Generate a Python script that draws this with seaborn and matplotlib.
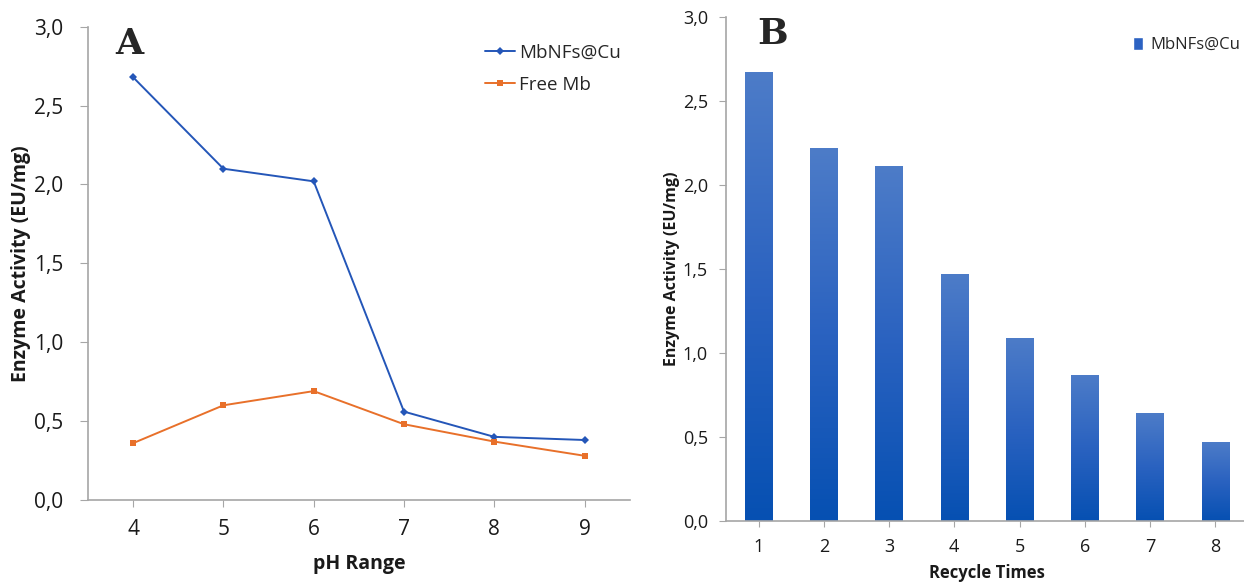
# Enzyme activity: pH profile (A) and reusability (B)
import numpy as np
import pandas as pd
import seaborn as sns
import matplotlib.pyplot as plt
from matplotlib.colors import LinearSegmentedColormap

# Data
ph_values = [4, 5, 6, 7, 8, 9]
mbnfs_cu = [2.68, 2.10, 2.02, 0.56, 0.40, 0.38]
free_mb = [0.36, 0.60, 0.69, 0.48, 0.37, 0.28]

recycle_times = ['1', '2', '3', '4', '5', '6', '7', '8']
recycle_activity = [2.67, 2.22, 2.11, 1.47, 1.09, 0.87, 0.64, 0.47]

y_ticks = [0.0, 0.5, 1.0, 1.5, 2.0, 2.5, 3.0]
y_tick_labels = ['0,0', '0,5', '1,0', '1,5', '2,0', '2,5', '3,0']

sns.set_style('white')
plt.rcParams['font.family'] = ['Open Sans', 'DejaVu Sans']

blue = '#2456b8'
orange = '#e8702a'
bar_blue = '#2c62c2'
spine_grey = '#a6a6a6'
text_col = '#1a1a1a'

fig = plt.figure(figsize=(12.44, 5.82), dpi=100)
ax_a = fig.add_axes([0.0707, 0.141, 0.4355, 0.813])
ax_b = fig.add_axes([0.5836, 0.105, 0.4195, 0.866])

# Panel A - line chart
df_ph = pd.DataFrame({
    'pH': ph_values * 2,
    'activity': mbnfs_cu + free_mb,
    'sample': ['MbNFs@Cu'] * len(ph_values) + ['Free Mb'] * len(ph_values),
})
sns.lineplot(data=df_ph, x='pH', y='activity', hue='sample', style='sample',
             markers={'MbNFs@Cu': 'D', 'Free Mb': 's'}, dashes=False,
             palette={'MbNFs@Cu': blue, 'Free Mb': orange},
             linewidth=1.4, markersize=4.5, markeredgewidth=0, ax=ax_a)
ax_a.set_xlim(3.5, 9.5)
ax_a.set_ylim(0, 3.0)
ax_a.set_xticks(ph_values)
ax_a.set_yticks(y_ticks)
ax_a.set_yticklabels(y_tick_labels)
ax_a.tick_params(axis='both', labelsize=15, colors=text_col)
ax_a.tick_params(axis='x', length=5, color=spine_grey, direction='out', bottom=True, pad=9)
ax_a.tick_params(axis='y', length=6, color=spine_grey, left=True, pad=12)
ax_a.set_xlabel('pH Range', fontsize=14, fontweight='bold', labelpad=10, color=text_col)
ax_a.set_ylabel('Enzyme Activity (EU/mg)', fontsize=14, fontweight='bold', labelpad=2, color=text_col)
for side in ['top', 'right']:
    ax_a.spines[side].set_visible(False)
for side in ['left', 'bottom']:
    ax_a.spines[side].set_color(spine_grey)
    ax_a.spines[side].set_linewidth(1.2)
ax_a.legend(loc='upper right', bbox_to_anchor=(1.015, 1.0), frameon=False,
            fontsize=13.5, handlelength=1.6, handletextpad=0.2, labelspacing=0.75)
ax_a.text(0.05, 1.0, 'A', transform=ax_a.transAxes, fontsize=26, fontweight='bold',
          family='DejaVu Serif', va='top', ha='left')

# Panel B - bar chart with vertical gradient fill
df_recycle = pd.DataFrame({'time': recycle_times, 'activity': recycle_activity})
sns.barplot(data=df_recycle, x='time', y='activity', color=bar_blue,
            width=0.42, saturation=1, label='MbNFs@Cu', ax=ax_b)
grad_cmap = LinearSegmentedColormap.from_list('bar_grad', ['#0650b2', '#2a62c0', '#4d7cc8'])
gradient = np.linspace(0, 1, 256).reshape(-1, 1)
for patch in ax_b.patches:
    x0, y0 = patch.get_x(), patch.get_y()
    w, h = patch.get_width(), patch.get_height()
    im = ax_b.imshow(gradient, cmap=grad_cmap, origin='lower', aspect='auto',
                     extent=[x0, x0 + w, y0, y0 + h], zorder=patch.get_zorder() + 0.1)
    im.set_clip_path(patch)
ax_b.set_xlim(-0.5, 7.5)
ax_b.set_ylim(0, 3.0)
ax_b.set_yticks(y_ticks)
ax_b.set_yticklabels(y_tick_labels)
ax_b.tick_params(axis='both', labelsize=13, colors=text_col)
ax_b.tick_params(axis='x', length=4, color=spine_grey, direction='out', bottom=True, pad=8)
ax_b.tick_params(axis='y', length=5, color=spine_grey, left=True, pad=8)
ax_b.set_xlabel('Recycle Times', fontsize=12, fontweight='bold', labelpad=6, color=text_col)
ax_b.set_ylabel('Enzyme Activity (EU/mg)', fontsize=11.5, fontweight='bold', labelpad=2, color=text_col)
for side in ['top', 'right']:
    ax_b.spines[side].set_visible(False)
for side in ['left', 'bottom']:
    ax_b.spines[side].set_color(spine_grey)
    ax_b.spines[side].set_linewidth(1.2)
ax_b.legend(loc='upper left', bbox_to_anchor=(0.752, 0.99), frameon=False,
            fontsize=12, handlelength=0.6, handleheight=0.8, handletextpad=0.4)
ax_b.text(0.06, 1.0, 'B', transform=ax_b.transAxes, fontsize=26, fontweight='bold',
          family='DejaVu Serif', va='top', ha='left')

fig.savefig('out.png', dpi=100)
